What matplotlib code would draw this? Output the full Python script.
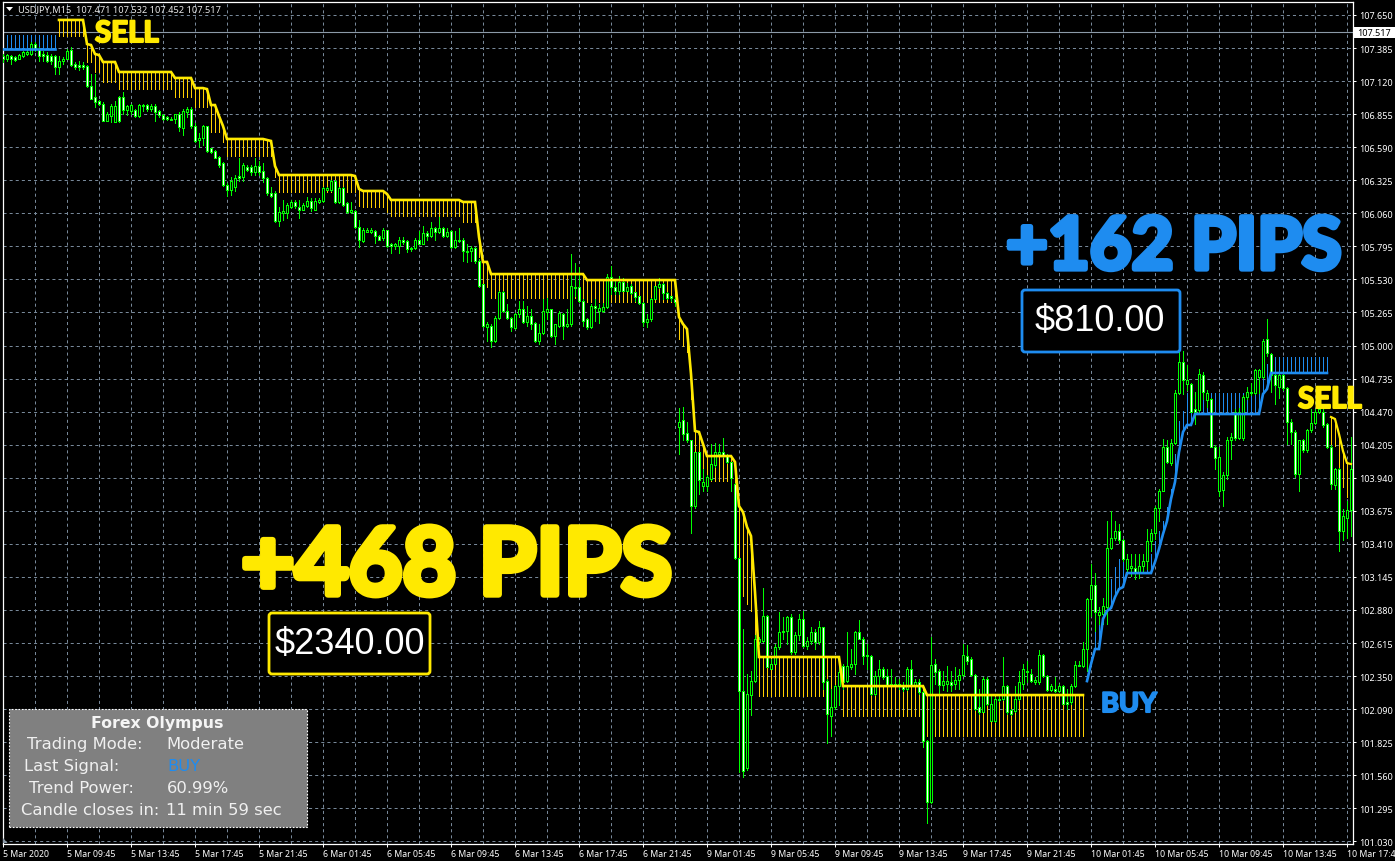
import matplotlib
matplotlib.use("Agg")
import matplotlib.pyplot as plt
import matplotlib.patheffects as pe
from matplotlib.patches import FancyBboxPatch, Rectangle, Polygon
from matplotlib.transforms import IdentityTransform
import numpy as np

W, H = 1395, 862
plt.rcParams['lines.scale_dashes'] = False

opens = [
107.32,107.30,107.32,107.31,107.30,107.32,107.34,107.34,107.42,107.38,
107.34,107.33,107.32,107.32,107.23,107.28,107.30,107.37,107.26,107.25,
107.25,107.24,107.08,106.99,106.96,106.94,106.80,106.84,106.79,106.99,
106.99,106.89,106.88,106.89,106.84,106.92,106.93,106.90,106.92,106.88,
106.85,106.83,106.81,106.82,106.86,106.74,106.87,106.90,106.76,106.65,
106.66,106.76,106.58,106.56,106.51,106.46,106.29,106.25,106.27,106.36,
106.35,106.43,106.43,106.39,106.44,106.40,106.34,106.22,106.22,106.00,
106.06,106.06,106.11,106.15,106.11,106.09,106.12,106.16,106.09,106.15,
106.16,106.25,106.25,106.32,106.15,106.26,106.14,106.07,106.08,105.95,
105.84,105.91,105.91,105.92,105.88,105.86,105.93,105.81,105.80,105.80,
105.85,105.84,105.77,105.78,105.85,105.81,105.90,105.88,105.94,105.91,
105.94,105.88,105.92,105.79,105.84,105.85,105.75,105.76,105.78,105.68,
105.49,105.15,105.16,105.04,105.22,105.43,105.28,105.22,105.14,105.25,
105.29,105.19,105.24,105.18,105.04,105.10,105.27,105.29,105.08,105.16,
105.25,105.16,105.17,105.46,105.47,105.36,105.21,105.15,105.32,105.28,
105.28,105.31,105.55,105.47,105.44,105.51,105.44,105.48,105.43,105.40,
105.34,105.19,105.21,105.37,105.47,105.49,105.42,105.40,105.37,104.35,
104.40,104.30,104.24,103.71,104.15,103.87,103.87,103.93,104.04,104.13,
104.15,104.12,104.07,103.89,103.30,102.23,101.61,102.20,102.31,102.62,
102.63,102.83,102.41,102.45,102.58,102.70,102.71,102.82,102.54,102.68,
102.81,102.59,102.63,102.70,102.62,102.74,102.31,102.03,102.10,102.27,
102.43,102.31,102.42,102.45,102.70,102.65,102.52,102.51,102.21,102.35,
102.41,102.35,102.28,102.29,102.29,102.27,102.25,102.41,102.28,102.30,
102.22,101.83,101.34,102.45,102.39,102.28,102.29,102.30,102.29,102.32,
102.36,102.51,102.49,102.36,102.10,102.06,102.33,101.99,101.99,102.17,
102.17,102.27,102.08,102.07,102.17,102.29,102.39,102.37,102.30,102.30,
102.52,102.35,102.24,102.25,102.23,102.27,102.14,102.14,102.27,102.43,
102.43,102.57,102.97,103.08,102.84,102.85,102.90,103.38,103.46,103.51,
103.44,103.21,103.22,103.22,103.18,103.23,103.27,103.43,103.50,103.70,
103.83,104.19,104.06,104.22,104.62,104.87,104.69,104.69,104.49,104.48,
104.76,104.56,104.57,104.19,103.83,103.84,103.96,104.24,104.47,104.26,
104.26,104.59,104.63,104.62,104.75,104.75,105.05,104.93,104.76,104.67,
104.76,104.66,104.39,104.31,103.97,104.24,104.16,104.32,104.38,104.47,
104.47,104.37,104.19,103.88,104.01,103.51,103.62,103.68,
]
closes = [
107.30,107.33,107.30,107.29,107.33,107.35,107.35,107.42,107.38,107.32,
107.32,107.28,107.28,107.23,107.28,107.30,107.36,107.25,107.23,107.23,
107.23,107.08,106.98,106.95,106.94,106.80,106.86,106.92,106.92,106.80,
106.89,106.92,106.93,106.84,106.93,106.93,106.90,106.92,106.87,106.85,
106.82,106.82,106.82,106.86,106.75,106.88,106.90,106.76,106.64,106.66,
106.76,106.56,106.55,106.50,106.45,106.29,106.25,106.32,106.34,106.34,
106.45,106.41,106.39,106.44,106.39,106.34,106.22,106.20,106.00,106.07,
106.08,106.13,106.15,106.12,106.09,106.13,106.16,106.10,106.16,106.17,
106.26,106.26,106.32,106.15,106.26,106.13,106.07,106.09,105.95,105.85,
105.93,105.93,105.93,105.88,105.85,105.93,105.80,105.80,105.81,105.85,
105.83,105.77,105.78,105.85,105.81,105.90,105.88,105.94,105.91,105.94,
105.88,105.91,105.79,105.85,105.85,105.76,105.76,105.78,105.68,105.48,
105.16,105.17,105.04,105.22,105.43,105.28,105.22,105.15,105.25,105.29,
105.19,105.24,105.17,105.04,105.10,105.28,105.29,105.08,105.17,105.26,
105.16,105.17,105.48,105.47,105.36,105.20,105.15,105.32,105.30,105.30,
105.31,105.55,105.47,105.44,105.51,105.44,105.47,105.42,105.39,105.34,
105.19,105.21,105.37,105.48,105.49,105.42,105.38,105.38,105.35,104.39,
104.29,104.24,103.71,104.15,103.92,103.91,103.95,104.05,104.15,104.15,
104.12,104.07,103.94,103.30,102.23,101.59,102.21,102.31,102.65,102.65,
102.83,102.42,102.45,102.58,102.70,102.71,102.82,102.54,102.68,102.81,
102.59,102.63,102.70,102.62,102.74,102.30,102.05,102.10,102.27,102.38,
102.30,102.43,102.45,102.70,102.65,102.51,102.51,102.21,102.35,102.41,
102.34,102.28,102.29,102.28,102.28,102.25,102.41,102.28,102.30,102.22,
101.83,101.34,102.44,102.38,102.28,102.31,102.31,102.28,102.32,102.36,
102.52,102.47,102.36,102.09,102.06,102.33,102.13,102.13,102.17,102.16,
102.27,102.06,102.05,102.17,102.30,102.41,102.38,102.31,102.32,102.52,
102.35,102.24,102.27,102.23,102.27,102.13,102.13,102.27,102.44,102.44,
102.57,102.97,103.08,102.86,102.86,102.91,103.38,103.46,103.51,103.44,
103.29,103.29,103.23,103.18,103.23,103.27,103.43,103.50,103.70,103.83,
104.19,104.07,104.22,104.62,104.87,104.72,104.72,104.47,104.47,104.77,
104.63,104.62,104.19,104.10,104.11,103.96,104.24,104.27,104.26,104.47,
104.59,104.63,104.62,104.80,104.80,105.04,104.94,104.76,104.68,104.76,
104.66,104.39,104.31,103.97,104.24,104.16,104.32,104.38,104.47,104.49,
104.36,104.19,103.89,104.01,103.51,103.63,103.68,104.01,
]
highs = [
107.34,107.34,107.33,107.32,107.34,107.36,107.37,107.43,107.43,107.39,
107.36,107.35,107.34,107.33,107.32,107.31,107.38,107.39,107.27,107.28,
107.27,107.25,107.18,107.18,106.97,106.95,106.87,106.94,106.96,107.00,
107.03,106.93,106.94,106.90,106.94,106.94,106.94,106.94,106.94,106.89,
106.86,106.84,106.83,106.86,106.87,106.90,106.91,106.91,106.78,106.70,
106.77,106.76,106.58,106.57,106.52,106.47,106.30,106.35,106.37,106.50,
106.46,106.45,106.45,106.50,106.48,106.46,106.35,106.27,106.24,106.11,
106.17,106.14,106.17,106.17,106.17,106.14,106.19,106.18,106.18,106.18,
106.27,106.27,106.33,106.33,106.27,106.27,106.15,106.15,106.09,106.01,
105.94,105.94,105.94,105.93,105.89,105.94,105.93,105.82,105.82,105.87,
105.87,105.85,105.79,105.86,105.92,105.96,105.92,105.99,105.95,106.03,
105.95,105.94,105.93,105.92,105.94,105.86,105.81,105.80,105.79,105.69,
105.49,105.19,105.17,105.24,105.44,105.44,105.33,105.23,105.26,105.36,
105.36,105.32,105.29,105.19,105.17,105.37,105.38,105.29,105.17,105.28,
105.26,105.29,105.73,105.66,105.63,105.37,105.22,105.33,105.37,105.33,
105.34,105.57,105.64,105.52,105.56,105.54,105.50,105.49,105.43,105.40,
105.35,105.25,105.38,105.48,105.54,105.50,105.43,105.40,105.39,104.50,
104.51,104.39,104.24,104.15,104.15,104.01,103.96,104.21,104.22,104.21,
104.26,104.13,104.07,103.90,103.30,102.73,102.37,102.39,102.68,102.66,
103.06,102.84,102.49,102.61,102.86,102.82,102.83,102.85,102.70,102.85,
102.87,102.66,102.74,102.73,102.79,102.74,102.33,102.25,102.28,102.49,
102.45,102.70,102.57,102.71,102.80,102.66,102.61,102.52,102.39,102.48,
102.42,102.41,102.41,102.34,102.33,102.30,102.42,102.48,102.33,102.33,
102.23,101.84,102.66,102.49,102.41,102.39,102.43,102.39,102.42,102.41,
102.61,102.60,102.50,102.37,102.25,102.34,102.34,102.19,102.18,102.20,
102.50,102.28,102.09,102.27,102.39,102.45,102.47,102.41,102.34,102.56,
102.53,102.36,102.29,102.34,102.29,102.28,102.25,102.29,102.47,102.47,
102.62,102.98,103.25,103.18,102.90,102.98,103.59,103.67,103.59,103.57,
103.45,103.33,103.33,103.33,103.33,103.33,103.53,103.53,103.71,103.85,
104.25,104.24,104.25,104.64,105.01,104.96,104.84,104.70,104.63,104.81,
104.79,104.64,104.58,104.20,104.19,103.99,104.27,104.30,104.49,104.50,
104.60,104.67,104.70,104.81,104.81,105.05,105.21,104.94,104.77,104.78,
104.77,104.67,104.41,104.32,104.24,104.25,104.33,104.49,104.49,104.51,
104.49,104.38,104.20,104.02,104.02,103.69,103.75,104.27,
]
lows = [
107.27,107.28,107.26,107.28,107.30,107.31,107.33,107.33,107.36,107.28,
107.28,107.27,107.26,107.18,107.18,107.26,107.30,107.24,107.22,107.21,
107.22,107.07,106.98,106.91,106.93,106.80,106.80,106.79,106.79,106.79,
106.86,106.85,106.86,106.83,106.83,106.88,106.88,106.88,106.80,106.83,
106.81,106.81,106.81,106.78,106.72,106.69,106.83,106.74,106.63,106.59,
106.61,106.55,106.54,106.50,106.43,106.28,106.20,106.21,106.24,106.32,
106.32,106.40,106.37,106.37,106.37,106.31,106.21,106.19,105.99,105.96,
106.01,106.02,106.10,106.10,106.02,106.09,106.11,106.08,106.09,106.14,
106.15,106.25,106.24,106.14,106.14,106.12,106.06,106.06,105.94,105.79,
105.83,105.91,105.90,105.82,105.85,105.85,105.79,105.74,105.77,105.74,
105.81,105.75,105.76,105.77,105.81,105.81,105.85,105.87,105.85,105.90,
105.87,105.87,105.78,105.78,105.83,105.68,105.67,105.68,105.66,105.47,
105.15,105.04,104.99,105.03,105.21,105.27,105.21,105.12,105.13,105.23,
105.18,105.16,105.13,105.03,105.01,105.09,105.21,105.07,105.01,105.15,
105.05,105.15,105.16,105.40,105.35,105.16,105.13,105.14,105.20,105.18,
105.27,105.30,105.41,105.41,105.41,105.44,105.44,105.41,105.36,105.33,
105.16,105.15,105.20,105.37,105.46,105.37,105.37,105.36,105.32,104.13,
104.24,104.23,103.50,103.70,103.81,103.83,103.83,103.92,104.03,104.12,
104.11,104.06,103.83,103.29,101.58,101.54,101.60,102.04,102.30,102.61,
102.62,102.42,102.41,102.45,102.57,102.65,102.61,102.53,102.53,102.64,
102.58,102.57,102.61,102.57,102.61,102.25,101.81,101.87,102.09,102.12,
102.25,102.30,102.41,102.37,102.65,102.45,102.41,102.20,102.20,102.28,
102.33,102.27,102.27,102.27,102.25,102.23,102.24,102.27,102.27,102.21,
101.78,101.17,101.33,102.29,102.21,102.24,102.23,102.23,102.25,102.25,
102.35,102.45,102.35,102.08,102.05,102.06,102.12,101.99,101.98,102.15,
102.16,102.05,102.04,102.06,102.16,102.25,102.30,102.30,102.29,102.29,
102.34,102.23,102.23,102.22,102.22,102.13,102.09,102.13,102.26,102.43,
102.42,102.39,102.83,102.71,102.77,102.77,102.77,103.37,103.44,103.42,
103.27,103.17,103.15,103.13,103.14,103.19,103.21,103.35,103.45,103.59,
103.83,104.06,104.04,104.21,104.61,104.61,104.64,104.47,104.37,104.47,
104.57,104.51,104.19,104.01,103.79,103.71,103.93,104.09,104.24,104.25,
104.24,104.57,104.60,104.61,104.62,104.74,104.92,104.63,104.53,104.58,
104.64,104.21,104.21,103.95,103.83,104.15,104.15,104.31,104.37,104.46,
104.35,104.18,103.85,103.85,103.35,103.44,103.46,103.47,
]

# Sell-stop line (yellow) and lower end of its hatch, bars 14-270
sell_line = ([107.61]*7 + [107.417,107.409,107.337,107.329] + [107.273]*4 + [107.193]*14 + [107.145]*5
    + [107.064]*3 + [107.056] + [106.928]*2 + [106.84,106.76] + [106.656]*10 + [106.648,106.64,106.439]
    + [106.367]*19 + [106.359,106.255] + [106.239]*6 + [106.215] + [106.167]*18 + [106.151]*4 + [105.87]
    + [105.67]*2 + [105.573]*24 + [105.525]*23 + [105.229,105.172,105.132,104.772,104.315,104.307,104.21]
    + [104.114]*7 + [104.066,103.713,103.665,103.545,103.473,103.024] + [102.503]*21 + [102.27]*21 + [102.198]*40)
sell_hatch = ([107.481]*7 + [107.273]*2 + [107.193]*2 + [107.113]*4 + [107.056]*14 + [106.992]*5 + [106.912]*4
    + [106.712]*3 + [106.632] + [106.519]*12 + [106.35] + [106.231]*20 + [106.118] + [106.11]*6 + [106.07]
    + [106.038]*18 + [105.99]*4 + [105.71] + [105.469]*2 + [105.381]*24 + [105.349]*23
    + [105.052,104.996,104.948,104.571,103.994,103.994,103.994] + [103.914]*7 + [103.826,103.072,102.992,102.928,102.872,102.647]
    + [102.19]*21 + [102.03]*21 + [101.87]*40)
# Last sell run, bars 332-337
sell2_line = [104.427,104.411,104.291,104.154,104.058,104.05]
sell2_hatch = [104.21,104.194,103.986,103.866,103.785,103.77]
# Buy-stop line (blue) and top of its hatch, bars 0-13 and 271-331
buy1_line = [107.377]*14
buy1_hatch = [107.489]*14
buy2_line = ([102.31,102.447,102.567,102.567,102.808,102.872,102.896,102.984,103.048,103.064] + [103.176]*7
    + [103.265,103.369,103.489,103.593,103.77,103.906,104.146,104.307,104.363,104.363] + [104.451]*17
    + [104.611,104.651] + [104.78]*15)
buy2_hatch = ([102.31,102.50,102.783,102.783,102.968,103.088,103.128,103.224,103.288,103.329] + [103.329]*7
    + [103.433,103.513,103.593,103.705,103.85,104.13,104.395,104.475,104.62,104.62] + [104.62]*17
    + [104.8,104.85] + [104.908]*15)

price_levels = [107.65,107.385,107.12,106.855,106.59,106.325,106.06,105.795,105.53,105.265,105.0,104.735,104.47,
                104.205,103.94,103.675,103.41,103.145,102.88,102.615,102.35,102.085,101.82,101.555,101.29,101.025]
price_labels = ['107.650','107.385','107.120','106.855','106.590','106.325','106.060','105.795','105.530','105.265',
                '105.000','104.735','104.470','104.205','103.940','103.675','103.410','103.145','102.880','102.615',
                '102.350','102.090','101.825','101.560','101.295','101.030']
time_labels = ['5 Mar 2020','5 Mar 09:45','5 Mar 13:45','5 Mar 17:45','5 Mar 21:45','6 Mar 01:45','6 Mar 05:45',
               '6 Mar 09:45','6 Mar 13:45','6 Mar 17:45','6 Mar 21:45','9 Mar 01:45','9 Mar 05:45','9 Mar 09:45',
               '9 Mar 13:45','9 Mar 17:45','9 Mar 21:45','10 Mar 01:45','10 Mar 05:45','10 Mar 09:45','10 Mar 13:45',
               '10 Mar 17:45']
last_price = 107.517

BULL = '#00FF00'
YELLOW = '#FFE900'
HATCH_Y = '#FFD000'
BLUE = '#1E8CF0'
GRID = '#778899'

fig = plt.figure(figsize=(W/100, H/100), dpi=100, facecolor='black')
ax = fig.add_axes([2.5/W, 1-844.5/H, 1350/W, 842/H], facecolor='black')
ax.set_xlim(-0.125, 337.375)
ax.set_ylim(101.008, 107.758)

for s in ax.spines.values():
    s.set_color('white'); s.set_linewidth(0.9)

bars = np.arange(len(opens))
o, c, hi, lo = map(np.array, (opens, closes, highs, lows))

major = bars[::16]
minor = bars[8::16]
ax.set_xticks(major)
ax.set_xticks(minor, minor=True)
ax.set_xticklabels(time_labels, fontname='Noto Sans', fontsize=6.3, color='white', ha='left')
ax.tick_params(axis='x', which='major', colors='white', length=2.5, width=0.72, pad=1.5, bottom=True)
ax.tick_params(axis='x', which='minor', length=0)
ax.yaxis.tick_right()
ax.set_yticks(price_levels)
ax.set_yticklabels(price_labels, fontname='Noto Sans', fontsize=6.5, color='white')
ax.tick_params(axis='y', colors='white', length=2.5, width=0.72, pad=2)
ax.grid(True, which='both', color=GRID, lw=0.72, linestyle=(0, (2.2, 2.2)), zorder=1)
ax.set_axisbelow(True)

ax.axhline(last_price, color='#8C9AA8', lw=0.8, zorder=1.5)

aa = False
# hatches
sell_x = np.arange(14, 271)
sell2_x = np.arange(332, 338)
buy1_x = np.arange(0, 14)
buy2_x = np.arange(271, 332)
ax.vlines(sell_x, sell_hatch, sell_line, color=HATCH_Y, lw=0.72, zorder=2, antialiased=aa)
ax.vlines(sell2_x, sell2_hatch, sell2_line, color=HATCH_Y, lw=0.72, zorder=2, antialiased=aa)
ax.vlines(buy1_x, buy1_line, buy1_hatch, color=BLUE, lw=0.72, zorder=2, antialiased=aa)
ax.vlines(buy2_x, buy2_line, buy2_hatch, color=BLUE, lw=0.72, zorder=2, antialiased=aa)

# candles
ax.vlines(bars, lo, hi, color=BULL, lw=0.72, zorder=3, antialiased=aa)
down = c < o
body_lo = np.minimum(o, c)
body_h = np.abs(c - o)
ax.bar(bars[~down], body_h[~down], bottom=body_lo[~down], width=0.5, facecolor='black',
       edgecolor=BULL, linewidth=0.72, zorder=3.2, antialiased=aa)
ax.bar(bars[down], body_h[down], bottom=body_lo[down], width=0.5, facecolor='white',
       edgecolor=BULL, linewidth=0.72, zorder=3.2, antialiased=aa)

# stop lines
ax.plot(sell_x, sell_line, color=YELLOW, lw=1.9, zorder=4, solid_joinstyle='miter')
ax.plot(sell2_x, sell2_line, color=YELLOW, lw=1.6, zorder=4, solid_joinstyle='miter')
ax.plot(buy1_x, buy1_line, color=BLUE, lw=1.9, zorder=4, solid_joinstyle='miter')
ax.plot(buy2_x, buy2_line, color=BLUE, lw=1.9, zorder=4, solid_joinstyle='miter')

idt = IdentityTransform()
def T(x, y, s, **kw):
    return fig.text(x, H - y, s, transform=idt, **kw)

def box(x0, y0, x1, y1, **kw):
    p = FancyBboxPatch((x0, H - y1), x1 - x0, y1 - y0, transform=idt, **kw)
    fig.add_artist(p)
    return p

# current price tag
fig.add_artist(Rectangle((1354, H - 39), 41, 11, transform=idt, facecolor='white', edgecolor='none', zorder=5))
T(1357, 33.5, '107.517', color='black', fontname='Noto Sans', fontsize=6.5, va='center', zorder=6)

# header
fig.add_artist(Polygon([(6, H-8), (13, H-8), (9.5, H-12)], closed=True, transform=idt, facecolor='white', edgecolor='none', zorder=5))
T(18, 13.5, 'USDJPY,M15  107.471 107.532 107.452 107.517', color='#E8E8E8', fontname='Noto Sans', fontsize=6.65, zorder=6)
fig.add_artist(Polygon([(3, H-844), (7.5, H-844), (3, H-839)], closed=True, transform=idt, facecolor='#8C9AA8', edgecolor='none', zorder=5))

def big(x, y, s, size, col, stroke):
    T(x, y, s, color=col, family='Lato', weight='bold', fontsize=size, zorder=8,
      path_effects=[pe.Stroke(linewidth=stroke, foreground=col, joinstyle='round'), pe.Normal()])

big(241, 595.5, '+468 PIPS', 66.8, YELLOW, 4.6)
big(1006, 270, '+162 PIPS', 52, BLUE, 3.8)
big(95, 43, 'SELL', 21.2, YELLOW, 1.5)
big(1298, 409, 'SELL', 21.2, YELLOW, 1.5)
big(1101, 713, 'BUY', 19.6, BLUE, 1.5)

# profit boxes
MONEY = dict(color='white', family='Liberation Sans', fontsize=26, ha='center', va='center', zorder=8)
box(269, 614, 430, 675, boxstyle='round,pad=0,rounding_size=3', facecolor='black', edgecolor=YELLOW, linewidth=2.0, zorder=7)
T(349.5, 645, '$2340.00', **MONEY)
box(1022, 291, 1180, 353, boxstyle='round,pad=0,rounding_size=3', facecolor='black', edgecolor=BLUE, linewidth=2.0, zorder=7)
T(1100, 322, '$810.00', **MONEY)

# info panel
fig.add_artist(Rectangle((8.5, H - 828), 298.5, 118, transform=idt, facecolor='#808080', edgecolor='white',
                         linewidth=0.8, linestyle=(0, (1.2, 1.2)), zorder=7))
PF = dict(fontname='DejaVu Sans', fontsize=11.8, color='#F0F0F0', va='center', zorder=8)
T(157, 724, 'Forex Olympus', fontname='DejaVu Sans', fontsize=11.3, weight='bold', color='#F5F5F5', ha='center', va='center', zorder=8)
T(27, 745, 'Trading Mode:', **PF)
T(166, 745, 'Moderate', **PF)
T(24, 767, 'Last Signal:', **PF)
T(167, 767, 'BUY', **{**PF, 'color': BLUE})
T(29, 789, 'Trend Power:', **PF)
T(167, 789, '60.99%', **PF)
T(21, 811, 'Candle closes in:', **PF)
T(166, 811, '11 min 59 sec', **PF)

assert len(opens) == len(closes) == len(highs) == len(lows) == 338, (len(opens), len(closes), len(highs), len(lows))
assert len(sell_line) == len(sell_hatch) == 257 and len(buy2_line) == len(buy2_hatch) == 61, (len(sell_line), len(sell_hatch), len(buy2_line), len(buy2_hatch))
fig.savefig('out.png', dpi=100, facecolor='black')
